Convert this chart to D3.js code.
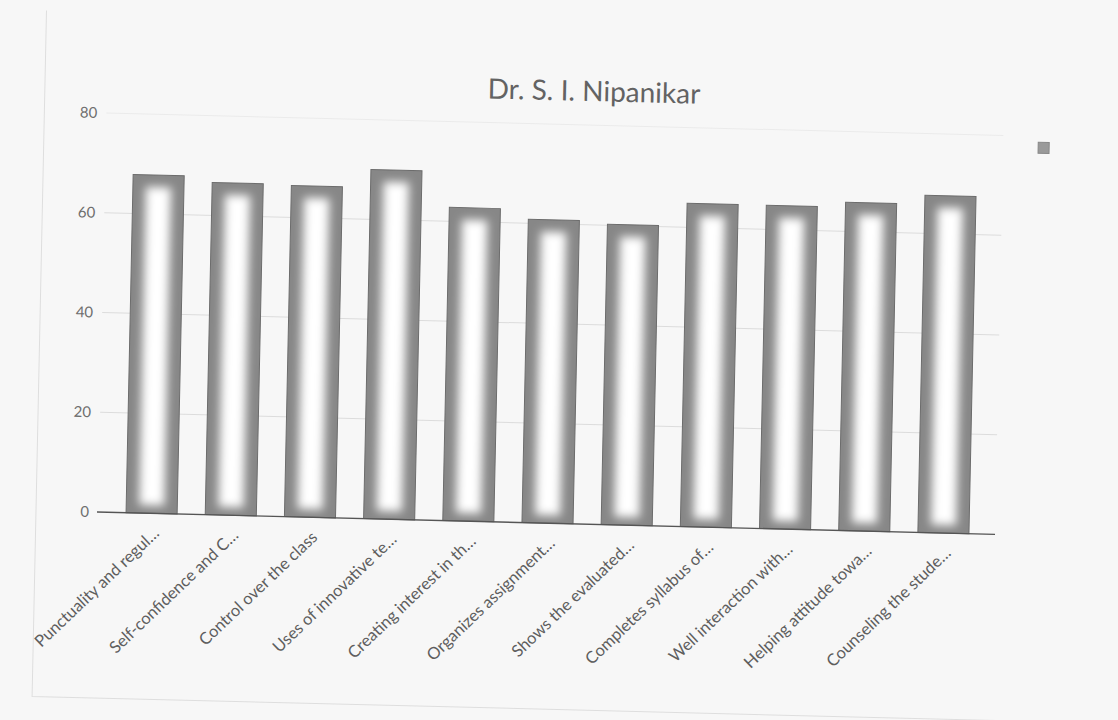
<!DOCTYPE html>
<html>
<head>
<meta charset="utf-8">
<script src="https://cdn.jsdelivr.net/npm/d3@7"></script>
<style>
body{margin:0;background:#f7f7f7;}
svg{display:block;}
</style>
</head>
<body>
<div id="chart"></div>
<script>
let chartTitle = "Dr. S. I. Nipanikar";
let categories = ["Punctuality and regul…","Self-confidence and C…","Control over the class","Uses of innovative te…",
	"Creating interest in th…","Organizes assignment…","Shows the evaluated…","Completes syllabus of…",
	"Well interaction with…","Helping attitude towa…","Counseling the stude…"];
let scores = [67.8,66.6,66.4,70.0,62.8,60.8,60.2,64.8,64.8,65.8,67.6];
let yTicks = [0,20,40,60,80];

let svg = d3.select('#chart').append('svg')
	.attr('width',1118)
	.attr('height',720)

// glow inside the bars
let defs = svg.append('defs')
defs.append('filter').attr('id','soft')
	.attr('x','-50%').attr('y','-20%').attr('width','200%').attr('height','140%')
	.append('feGaussianBlur').attr('stdDeviation',5)

// the sheet was scanned a bit crooked, so shear the whole chart to follow it
let page = svg.append('g').attr('transform','matrix(1,0.025,-0.021,1,10.75,-2.5)')

// chart area border (only the left and bottom edges show on the scan)
page.append('path')
	.attr('d','M36,12 L36,698 L1236,698')
	.attr('fill','none').attr('stroke','#dedede')

let yscale = d3.scaleLinear().domain([0,80]).range([512,113])
let xscale = d3.scaleBand().domain(categories).range([112,983])
	.paddingInner(0.355).paddingOuter(0.1775)

// gridlines
page.append('g').selectAll('line')
	.data(yTicks.filter(d => d > 0))
	.enter().append('line')
	.attr('x1',98).attr('x2',995)
	.attr('y1',d => yscale(d)).attr('y2',d => yscale(d))
	.attr('stroke',d => d == 80 ? '#ebebeb' : '#dcdcdc').attr('stroke-width',1)

let y_axis = d3.axisLeft(yscale).tickValues(yTicks).tickSize(0).tickPadding(9)
let yg = page.append('g').attr('transform','translate(98,0)').call(y_axis)
yg.select('.domain').remove()
yg.selectAll('text')
	.style('font-family','Lato').style('font-size','15px').attr('fill','#6e6e6e')

// bars
let bars = page.append('g').selectAll('g')
	.data(scores)
	.enter().append('g')
bars.append('rect')
	.attr('x',(d,i) => xscale(categories[i]))
	.attr('y',d => yscale(d))
	.attr('width',xscale.bandwidth())
	.attr('height',d => yscale(0) - yscale(d))
	.attr('fill','#878787')
	.attr('stroke','#6c6c6c').attr('stroke-width',1)
bars.append('rect')
	.attr('x',(d,i) => xscale(categories[i]) + 13)
	.attr('y',d => yscale(d) + 12)
	.attr('width',xscale.bandwidth() - 26)
	.attr('height',d => yscale(0) - yscale(d) - 20)
	.attr('fill','#ffffff')
	.attr('filter','url(#soft)')

// category axis
page.append('line')
	.attr('x1',97).attr('x2',995)
	.attr('y1',yscale(0)).attr('y2',yscale(0))
	.attr('stroke','#555').attr('stroke-width',1.4)

let x_axis = d3.axisBottom(xscale).tickSize(0)
let xg = page.append('g').attr('transform','translate(0,' + yscale(0) + ')').call(x_axis)
xg.select('.domain').remove()
xg.selectAll('text')
	.attr('x',0).attr('y',0).attr('dy',0)
	.attr('transform','translate(9,21) rotate(-45)')
	.style('text-anchor','end')
	.style('font-family','Lato').style('font-size','16.5px').attr('fill','#5e5e5e')

page.append('text')
	.attr('x',585).attr('y',89)
	.style('text-anchor','middle')
	.style('font-family','Lato')
	.style('font-size','28px')
	.attr('fill','#636363')
	.text(chartTitle)

// legend marker (no legend text in the picture)
page.append('rect')
	.attr('x',1030).attr('y',119).attr('width',11).attr('height',11)
	.attr('fill','#9a9a9a').attr('stroke','#888')
</script>
</body>
</html>
